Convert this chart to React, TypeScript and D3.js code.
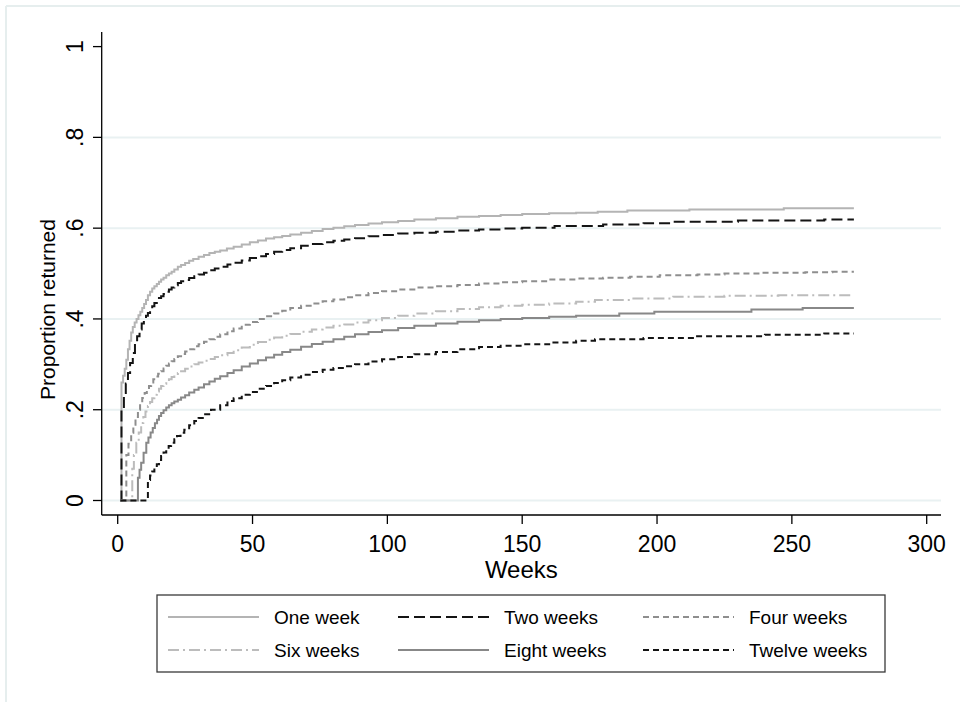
import React from "react";
import * as d3 from "d3";

// ---- Data (weeks, proportion returned) ----
const oneWeek: [number, number][] = [
  [1, 0], [1.4, 0.26], [2, 0.275], [2.6, 0.29], [3.2, 0.31], [3.8, 0.333], [4.4, 0.352], [5, 0.37],
  [5.6, 0.382], [6.3, 0.392], [7, 0.4], [7.7, 0.408], [8.4, 0.416], [9.1, 0.424], [9.8, 0.433],
  [10.5, 0.442], [11.2, 0.452], [12, 0.46], [12.8, 0.467], [13.6, 0.472], [14.5, 0.477],
  [15.3, 0.482], [16.1, 0.487], [17, 0.491], [18, 0.496], [19, 0.5], [20, 0.504], [21, 0.509],
  [22.3, 0.515], [23.5, 0.519], [25, 0.523], [26.5, 0.528], [28, 0.532], [30, 0.537], [32, 0.541],
  [34, 0.545], [36, 0.548], [38, 0.551], [40.5, 0.555], [43, 0.559], [46, 0.564], [49, 0.569],
  [52, 0.573], [55, 0.577], [58, 0.58], [61, 0.583], [64, 0.586], [68, 0.59], [72, 0.594],
  [76, 0.598], [80, 0.601], [84, 0.604], [88, 0.607], [93, 0.61], [98, 0.613], [104, 0.616],
  [110, 0.619], [118, 0.622], [126, 0.625], [134, 0.627], [142, 0.629], [150, 0.631], [160, 0.633],
  [170, 0.634], [178, 0.636], [189, 0.639], [212, 0.641], [247, 0.644], [273, 0.644],
];
const twoWeeks: [number, number][] = [
  [1, 0], [1.4, 0.2], [2.3, 0.237], [3, 0.258], [3.8, 0.281], [4.6, 0.303], [5.6, 0.325],
  [6.4, 0.345], [7.2, 0.362], [8.1, 0.377], [8.9, 0.39], [9.7, 0.4], [10.5, 0.407], [11.2, 0.413],
  [12, 0.421], [12.8, 0.428], [13.6, 0.435], [14.5, 0.441], [15.3, 0.446], [16.1, 0.45], [17, 0.455],
  [18, 0.46], [19, 0.465], [20, 0.469], [21, 0.474], [22.3, 0.479], [23.5, 0.483], [25, 0.486],
  [26.5, 0.49], [28.4, 0.494], [30, 0.498], [32, 0.502], [34, 0.507], [36, 0.511], [38, 0.515],
  [40.7, 0.52], [43, 0.524], [46, 0.529], [49, 0.534], [52, 0.538], [55, 0.543], [58, 0.548],
  [61, 0.552], [64, 0.556], [68, 0.561], [72, 0.565], [76, 0.569], [80, 0.572], [84, 0.575],
  [88, 0.578], [93, 0.582], [98, 0.585], [104, 0.588], [110, 0.59], [118, 0.592], [126, 0.595],
  [134, 0.597], [142, 0.599], [150, 0.601], [162, 0.605], [180, 0.608], [195, 0.611], [205, 0.614],
  [230, 0.617], [262, 0.619], [273, 0.619],
];
const fourWeeks: [number, number][] = [
  [1, 0], [3.2, 0.1], [4, 0.125], [5, 0.149], [5.8, 0.167], [6.6, 0.184], [7.5, 0.2], [8.3, 0.213],
  [9.1, 0.226], [10, 0.237], [10.8, 0.245], [11.6, 0.252], [12.4, 0.26], [13.2, 0.267], [14, 0.273],
  [15, 0.279], [16.1, 0.285], [17, 0.291], [18, 0.297], [19, 0.302], [20, 0.307], [21, 0.312],
  [22.3, 0.318], [23.5, 0.323], [25, 0.328], [26.5, 0.333], [28.4, 0.34], [30, 0.344], [32, 0.35],
  [34, 0.355], [36, 0.361], [38, 0.366], [40.7, 0.373], [43, 0.379], [46, 0.387], [49, 0.393],
  [52, 0.4], [55, 0.406], [58, 0.412], [61, 0.418], [64, 0.424], [68, 0.429], [72, 0.434],
  [76, 0.439], [80, 0.443], [84, 0.448], [88, 0.452], [93, 0.457], [98, 0.461], [104, 0.465],
  [110, 0.469], [118, 0.472], [126, 0.475], [134, 0.478], [142, 0.481], [150, 0.483], [160, 0.487],
  [170, 0.489], [180, 0.491], [190, 0.493], [201, 0.496], [215, 0.498], [225, 0.5], [238, 0.502],
  [255, 0.503], [265, 0.504], [273, 0.504],
];
const sixWeeks: [number, number][] = [
  [1, 0], [5.4, 0.07], [6, 0.1], [6.9, 0.127], [7.8, 0.15], [8.7, 0.171], [9.5, 0.184],
  [10.3, 0.196], [11.2, 0.208], [12, 0.217], [12.8, 0.225], [13.6, 0.233], [14.5, 0.24],
  [15.3, 0.246], [16.1, 0.252], [17, 0.257], [18, 0.262], [19, 0.267], [20, 0.272], [21, 0.276],
  [22.3, 0.281], [23.5, 0.285], [25, 0.29], [26.5, 0.295], [28.4, 0.3], [30, 0.304], [32, 0.308],
  [34, 0.312], [36, 0.316], [38, 0.32], [40.7, 0.325], [43, 0.331], [46, 0.337], [49, 0.343],
  [52, 0.349], [55, 0.354], [58, 0.359], [61, 0.363], [64, 0.367], [68, 0.372], [72, 0.377],
  [76, 0.381], [80, 0.385], [84, 0.388], [88, 0.392], [93, 0.397], [98, 0.402], [104, 0.407],
  [110, 0.412], [118, 0.417], [126, 0.422], [134, 0.426], [142, 0.429], [150, 0.431], [160, 0.434],
  [170, 0.438], [177, 0.442], [190, 0.445], [206, 0.449], [225, 0.451], [245, 0.452], [273, 0.452],
];
const eightWeeks: [number, number][] = [
  [1, 0], [7.5, 0.05], [8.1, 0.068], [8.7, 0.083], [9.6, 0.105], [10.6, 0.127], [11.4, 0.139],
  [12.2, 0.15], [13, 0.16], [13.8, 0.17], [14.6, 0.178], [15.3, 0.186], [16.1, 0.193], [17, 0.199],
  [18, 0.205], [19, 0.21], [20, 0.214], [21, 0.218], [22.3, 0.222], [23.5, 0.227], [25, 0.232],
  [26.5, 0.238], [28.4, 0.244], [30, 0.249], [32, 0.256], [34, 0.262], [36, 0.268], [38, 0.274],
  [40.7, 0.281], [43, 0.287], [46, 0.295], [49, 0.302], [52, 0.309], [55, 0.315], [58, 0.321],
  [61, 0.327], [64, 0.332], [68, 0.339], [72, 0.345], [76, 0.35], [80, 0.355], [84, 0.361],
  [88, 0.366], [93, 0.371], [98, 0.375], [104, 0.38], [110, 0.385], [118, 0.39], [126, 0.394],
  [134, 0.397], [142, 0.4], [150, 0.402], [160, 0.405], [170, 0.407], [186, 0.412], [199, 0.416],
  [235, 0.421], [254, 0.424], [273, 0.424],
];
const twelveWeeks: [number, number][] = [
  [1, 0], [11.2, 0.045], [12, 0.055], [12.8, 0.064], [13.6, 0.072], [14.5, 0.08], [15.3, 0.089],
  [16.1, 0.098], [17, 0.106], [18, 0.113], [18.9, 0.12], [19.8, 0.127], [21, 0.135], [22, 0.142],
  [23.3, 0.149], [24.7, 0.156], [26.5, 0.166], [28.4, 0.175], [30, 0.182], [32, 0.19], [34.6, 0.2],
  [38, 0.21], [40.7, 0.219], [43, 0.225], [46, 0.233], [49, 0.239], [52, 0.246], [55, 0.252],
  [58, 0.259], [61, 0.265], [64, 0.271], [68, 0.277], [72, 0.283], [76, 0.288], [80, 0.292],
  [84, 0.296], [88, 0.3], [93, 0.306], [98, 0.311], [104, 0.316], [110, 0.322], [118, 0.327],
  [126, 0.333], [134, 0.338], [142, 0.341], [150, 0.344], [160, 0.348], [170, 0.352], [177, 0.355],
  [195, 0.358], [214, 0.362], [240, 0.365], [262, 0.368], [273, 0.368],
];

const seriesNames = ["One week", "Two weeks", "Four weeks", "Six weeks", "Eight weeks", "Twelve weeks"];
const seriesData = [oneWeek, twoWeeks, fourWeeks, sixWeeks, eightWeeks, twelveWeeks];
const xTicks = [0, 50, 100, 150, 200, 250, 300];
const yTicks = [0, 0.2, 0.4, 0.6, 0.8, 1];
const yTickLabels = ["0", ".2", ".4", ".6", ".8", "1"];
const yGrid = [0, 0.2, 0.4, 0.6, 0.8];

// ---- Styles ----
const styles = [
  { color: "#b4b4b4", dash: "none", width: 2 },
  { color: "#141414", dash: "11,5", width: 2 },
  { color: "#8e8e8e", dash: "6,4", width: 2 },
  { color: "#bcbcbc", dash: "11,4,2,4", width: 2 },
  { color: "#888888", dash: "none", width: 2 },
  { color: "#141414", dash: "6,4", width: 2 },
];

const FONT = "'Liberation Sans', Arial, sans-serif";

export default function App() {
  const W = 960, H = 702;
  const plotLeft = 101.7, plotRight = 941, axisY = 515, axisTop = 32;
  const x = d3.scaleLinear().domain([0, 300]).range([117.7, 926.7]);
  const y = d3.scaleLinear().domain([0, 1]).range([500.5, 46.6]);
  const line = d3
    .line<[number, number]>()
    .x((d) => x(d[0]))
    .y((d) => y(d[1]))
    .curve(d3.curveStepAfter);

  // legend layout
  const legLeft = 157, legTop = 595, legRight = 885, legBottom = 672;
  const colKeyX = [168, 398, 643];
  const keyLen = 91;
  const rowY = [617, 650];

  return (
    <div style={{ position: "absolute", left: 0, top: 0 }}>
      <svg width={W} height={H} style={{ display: "block", background: "#fff" }}>
        {/* outer frame (top & left visible) */}
        <line x1={6} x2={W} y1={6} y2={6} stroke="#e6eeee" strokeWidth={2} />
        <line x1={6} x2={6} y1={6} y2={H} stroke="#e6eeee" strokeWidth={2} />

        {/* gridlines */}
        {yGrid.map((v) => (
          <line key={v} x1={plotLeft} x2={plotRight} y1={y(v)} y2={y(v)} stroke="#e9f1f2" strokeWidth={2} />
        ))}

        {/* series */}
        {seriesData.map((d, i) => (
          <path
            key={seriesNames[i]}
            d={line(d) || ""}
            fill="none"
            stroke={styles[i].color}
            strokeWidth={styles[i].width}
            strokeDasharray={styles[i].dash}
          />
        ))}

        {/* y axis */}
        <line x1={plotLeft} x2={plotLeft} y1={axisTop} y2={axisY} stroke="#000" strokeWidth={1.3} />
        {yTicks.map((v, i) => (
          <g key={v}>
            <line x1={93} x2={plotLeft} y1={y(v)} y2={y(v)} stroke="#000" strokeWidth={1.3} />
            <text
              transform={`translate(83,${y(v)}) rotate(-90)`}
              textAnchor="middle"
              fontFamily={FONT}
              fontSize={23}
              fill="#000"
            >
              {yTickLabels[i]}
            </text>
          </g>
        ))}
        <text
          transform={`translate(55,${(axisTop + axisY) / 2 + 36}) rotate(-90)`}
          textAnchor="middle"
          fontFamily={FONT}
          fontSize={21}
          fill="#000"
        >
          Proportion returned
        </text>

        {/* x axis */}
        <line x1={plotLeft} x2={plotRight} y1={axisY} y2={axisY} stroke="#000" strokeWidth={1.3} />
        {xTicks.map((v) => (
          <g key={v}>
            <line x1={x(v)} x2={x(v)} y1={axisY} y2={524} stroke="#000" strokeWidth={1.3} />
            <text x={x(v)} y={552} textAnchor="middle" fontFamily={FONT} fontSize={23} fill="#000">
              {v}
            </text>
          </g>
        ))}
        <text x={(plotLeft + plotRight) / 2} y={578} textAnchor="middle" fontFamily={FONT} fontSize={24} fill="#000">
          Weeks
        </text>

        {/* legend */}
        <rect
          x={legLeft}
          y={legTop}
          width={legRight - legLeft}
          height={legBottom - legTop}
          fill="#fff"
          stroke="#3a3a3a"
          strokeWidth={1.3}
        />
        {seriesNames.map((name, i) => {
          const col = i % 3;
          const row = Math.floor(i / 3);
          const kx = colKeyX[col];
          const ky = rowY[row];
          return (
            <g key={name}>
              <line
                x1={kx}
                x2={kx + keyLen}
                y1={ky}
                y2={ky}
                stroke={styles[i].color}
                strokeWidth={styles[i].width}
                strokeDasharray={styles[i].dash}
              />
              <text x={kx + keyLen + 15} y={ky + 7} fontFamily={FONT} fontSize={19} fill="#000">
                {name}
              </text>
            </g>
          );
        })}
      </svg>
    </div>
  );
}
